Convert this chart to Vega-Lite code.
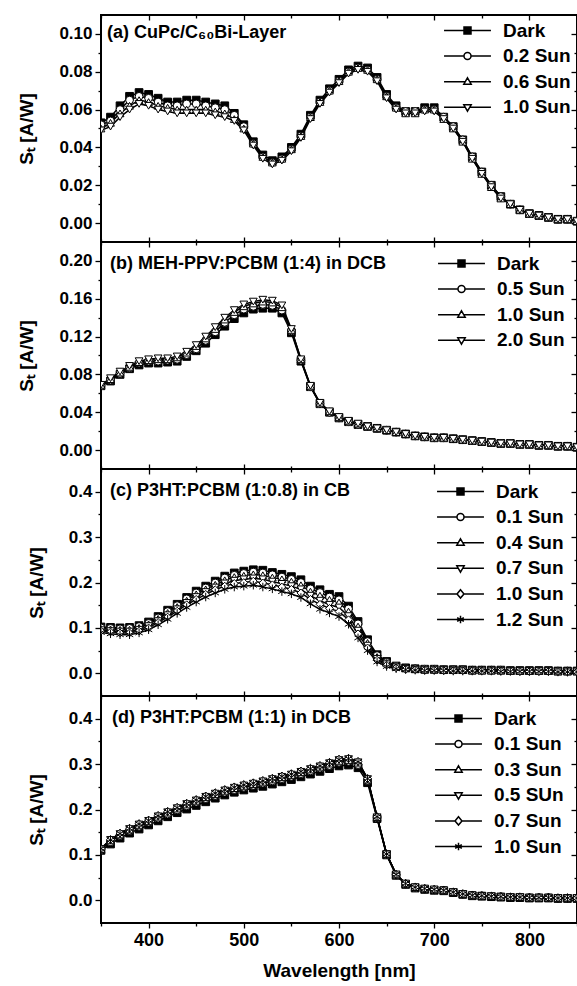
{
"$schema": "https://vega.github.io/schema/vega-lite/v6.json",
"background": "white",
"padding": {"left": 16, "top": 13, "right": 0, "bottom": 2},
"spacing": 0,
"bounds": "flush",
"config": {
  "font": "Liberation Sans",
  "view": {"stroke": "black", "strokeWidth": 2},
  "axis": {"labelFont": "Liberation Sans", "labelFontWeight": "bold", "labelColor": "black", "titleFont": "Liberation Sans", "titleFontWeight": "bold", "titleColor": "black", "tickColor": "black", "tickWidth": 1.3, "domain": false, "grid": false},
  "legend": {"orient": "top-right", "padding": 0, "title": null, "symbolSize": 49, "symbolStrokeWidth": 1.5, "symbolOpacity": 1, "symbolOffset": 20, "labelOffset": 26, "rowPadding": 5.6, "labelFontSize": 19, "labelFontWeight": "bold", "labelColor": "black", "labelFont": "Liberation Sans"}
},
"resolve": {"scale": {"shape": "independent", "fill": "independent"}, "legend": {"shape": "independent", "fill": "independent"}},
"datasets": {
"a": [
{"s":"Dark","w":350,"v":0.053},{"s":"Dark","w":360,"v":0.056},{"s":"Dark","w":370,"v":0.062},{"s":"Dark","w":380,"v":0.067},{"s":"Dark","w":390,"v":0.069},{"s":"Dark","w":400,"v":0.068},{"s":"Dark","w":410,"v":0.066},{"s":"Dark","w":420,"v":0.064},{"s":"Dark","w":430,"v":0.064},{"s":"Dark","w":440,"v":0.065},{"s":"Dark","w":450,"v":0.065},{"s":"Dark","w":460,"v":0.064},{"s":"Dark","w":470,"v":0.063},{"s":"Dark","w":480,"v":0.062},{"s":"Dark","w":490,"v":0.058},{"s":"Dark","w":500,"v":0.052},{"s":"Dark","w":510,"v":0.043},{"s":"Dark","w":520,"v":0.036},{"s":"Dark","w":530,"v":0.033},{"s":"Dark","w":540,"v":0.035},{"s":"Dark","w":550,"v":0.040},{"s":"Dark","w":560,"v":0.047},{"s":"Dark","w":570,"v":0.057},{"s":"Dark","w":580,"v":0.065},{"s":"Dark","w":590,"v":0.071},{"s":"Dark","w":600,"v":0.076},{"s":"Dark","w":610,"v":0.081},{"s":"Dark","w":620,"v":0.083},{"s":"Dark","w":630,"v":0.082},{"s":"Dark","w":640,"v":0.077},{"s":"Dark","w":650,"v":0.068},{"s":"Dark","w":660,"v":0.062},{"s":"Dark","w":670,"v":0.059},{"s":"Dark","w":680,"v":0.059},{"s":"Dark","w":690,"v":0.061},{"s":"Dark","w":700,"v":0.061},{"s":"Dark","w":710,"v":0.056},{"s":"Dark","w":720,"v":0.051},{"s":"Dark","w":730,"v":0.044},{"s":"Dark","w":740,"v":0.035},{"s":"Dark","w":750,"v":0.027},{"s":"Dark","w":760,"v":0.020},{"s":"Dark","w":770,"v":0.014},{"s":"Dark","w":780,"v":0.010},{"s":"Dark","w":790,"v":0.007},{"s":"Dark","w":800,"v":0.005},{"s":"Dark","w":810,"v":0.004},{"s":"Dark","w":820,"v":0.003},{"s":"Dark","w":830,"v":0.002},{"s":"Dark","w":840,"v":0.002},{"s":"Dark","w":850,"v":0.001},
{"s":"0.2 Sun","w":350,"v":0.052},{"s":"0.2 Sun","w":360,"v":0.054},{"s":"0.2 Sun","w":370,"v":0.060},{"s":"0.2 Sun","w":380,"v":0.065},{"s":"0.2 Sun","w":390,"v":0.067},{"s":"0.2 Sun","w":400,"v":0.066},{"s":"0.2 Sun","w":410,"v":0.064},{"s":"0.2 Sun","w":420,"v":0.062},{"s":"0.2 Sun","w":430,"v":0.062},{"s":"0.2 Sun","w":440,"v":0.063},{"s":"0.2 Sun","w":450,"v":0.063},{"s":"0.2 Sun","w":460,"v":0.062},{"s":"0.2 Sun","w":470,"v":0.061},{"s":"0.2 Sun","w":480,"v":0.060},{"s":"0.2 Sun","w":490,"v":0.057},{"s":"0.2 Sun","w":500,"v":0.051},{"s":"0.2 Sun","w":510,"v":0.042},{"s":"0.2 Sun","w":520,"v":0.035},{"s":"0.2 Sun","w":530,"v":0.032},{"s":"0.2 Sun","w":540,"v":0.034},{"s":"0.2 Sun","w":550,"v":0.039},{"s":"0.2 Sun","w":560,"v":0.046},{"s":"0.2 Sun","w":570,"v":0.056},{"s":"0.2 Sun","w":580,"v":0.064},{"s":"0.2 Sun","w":590,"v":0.070},{"s":"0.2 Sun","w":600,"v":0.075},{"s":"0.2 Sun","w":610,"v":0.080},{"s":"0.2 Sun","w":620,"v":0.082},{"s":"0.2 Sun","w":630,"v":0.081},{"s":"0.2 Sun","w":640,"v":0.076},{"s":"0.2 Sun","w":650,"v":0.067},{"s":"0.2 Sun","w":660,"v":0.061},{"s":"0.2 Sun","w":670,"v":0.059},{"s":"0.2 Sun","w":680,"v":0.059},{"s":"0.2 Sun","w":690,"v":0.060},{"s":"0.2 Sun","w":700,"v":0.060},{"s":"0.2 Sun","w":710,"v":0.056},{"s":"0.2 Sun","w":720,"v":0.051},{"s":"0.2 Sun","w":730,"v":0.044},{"s":"0.2 Sun","w":740,"v":0.035},{"s":"0.2 Sun","w":750,"v":0.027},{"s":"0.2 Sun","w":760,"v":0.020},{"s":"0.2 Sun","w":770,"v":0.014},{"s":"0.2 Sun","w":780,"v":0.010},{"s":"0.2 Sun","w":790,"v":0.007},{"s":"0.2 Sun","w":800,"v":0.005},{"s":"0.2 Sun","w":810,"v":0.004},{"s":"0.2 Sun","w":820,"v":0.003},{"s":"0.2 Sun","w":830,"v":0.002},{"s":"0.2 Sun","w":840,"v":0.002},{"s":"0.2 Sun","w":850,"v":0.001},
{"s":"0.6 Sun","w":350,"v":0.050},{"s":"0.6 Sun","w":360,"v":0.053},{"s":"0.6 Sun","w":370,"v":0.058},{"s":"0.6 Sun","w":380,"v":0.062},{"s":"0.6 Sun","w":390,"v":0.065},{"s":"0.6 Sun","w":400,"v":0.064},{"s":"0.6 Sun","w":410,"v":0.062},{"s":"0.6 Sun","w":420,"v":0.061},{"s":"0.6 Sun","w":430,"v":0.060},{"s":"0.6 Sun","w":440,"v":0.060},{"s":"0.6 Sun","w":450,"v":0.060},{"s":"0.6 Sun","w":460,"v":0.060},{"s":"0.6 Sun","w":470,"v":0.059},{"s":"0.6 Sun","w":480,"v":0.058},{"s":"0.6 Sun","w":490,"v":0.055},{"s":"0.6 Sun","w":500,"v":0.050},{"s":"0.6 Sun","w":510,"v":0.042},{"s":"0.6 Sun","w":520,"v":0.035},{"s":"0.6 Sun","w":530,"v":0.032},{"s":"0.6 Sun","w":540,"v":0.034},{"s":"0.6 Sun","w":550,"v":0.039},{"s":"0.6 Sun","w":560,"v":0.046},{"s":"0.6 Sun","w":570,"v":0.056},{"s":"0.6 Sun","w":580,"v":0.064},{"s":"0.6 Sun","w":590,"v":0.070},{"s":"0.6 Sun","w":600,"v":0.075},{"s":"0.6 Sun","w":610,"v":0.080},{"s":"0.6 Sun","w":620,"v":0.082},{"s":"0.6 Sun","w":630,"v":0.081},{"s":"0.6 Sun","w":640,"v":0.076},{"s":"0.6 Sun","w":650,"v":0.067},{"s":"0.6 Sun","w":660,"v":0.061},{"s":"0.6 Sun","w":670,"v":0.058},{"s":"0.6 Sun","w":680,"v":0.058},{"s":"0.6 Sun","w":690,"v":0.060},{"s":"0.6 Sun","w":700,"v":0.060},{"s":"0.6 Sun","w":710,"v":0.055},{"s":"0.6 Sun","w":720,"v":0.050},{"s":"0.6 Sun","w":730,"v":0.043},{"s":"0.6 Sun","w":740,"v":0.034},{"s":"0.6 Sun","w":750,"v":0.026},{"s":"0.6 Sun","w":760,"v":0.019},{"s":"0.6 Sun","w":770,"v":0.013},{"s":"0.6 Sun","w":780,"v":0.010},{"s":"0.6 Sun","w":790,"v":0.007},{"s":"0.6 Sun","w":800,"v":0.005},{"s":"0.6 Sun","w":810,"v":0.004},{"s":"0.6 Sun","w":820,"v":0.003},{"s":"0.6 Sun","w":830,"v":0.002},{"s":"0.6 Sun","w":840,"v":0.002},{"s":"0.6 Sun","w":850,"v":0.001},
{"s":"1.0 Sun","w":350,"v":0.049},{"s":"1.0 Sun","w":360,"v":0.051},{"s":"1.0 Sun","w":370,"v":0.056},{"s":"1.0 Sun","w":380,"v":0.060},{"s":"1.0 Sun","w":390,"v":0.063},{"s":"1.0 Sun","w":400,"v":0.062},{"s":"1.0 Sun","w":410,"v":0.060},{"s":"1.0 Sun","w":420,"v":0.059},{"s":"1.0 Sun","w":430,"v":0.058},{"s":"1.0 Sun","w":440,"v":0.058},{"s":"1.0 Sun","w":450,"v":0.058},{"s":"1.0 Sun","w":460,"v":0.058},{"s":"1.0 Sun","w":470,"v":0.057},{"s":"1.0 Sun","w":480,"v":0.056},{"s":"1.0 Sun","w":490,"v":0.054},{"s":"1.0 Sun","w":500,"v":0.049},{"s":"1.0 Sun","w":510,"v":0.041},{"s":"1.0 Sun","w":520,"v":0.034},{"s":"1.0 Sun","w":530,"v":0.031},{"s":"1.0 Sun","w":540,"v":0.033},{"s":"1.0 Sun","w":550,"v":0.038},{"s":"1.0 Sun","w":560,"v":0.045},{"s":"1.0 Sun","w":570,"v":0.055},{"s":"1.0 Sun","w":580,"v":0.063},{"s":"1.0 Sun","w":590,"v":0.069},{"s":"1.0 Sun","w":600,"v":0.074},{"s":"1.0 Sun","w":610,"v":0.079},{"s":"1.0 Sun","w":620,"v":0.081},{"s":"1.0 Sun","w":630,"v":0.080},{"s":"1.0 Sun","w":640,"v":0.075},{"s":"1.0 Sun","w":650,"v":0.066},{"s":"1.0 Sun","w":660,"v":0.060},{"s":"1.0 Sun","w":670,"v":0.058},{"s":"1.0 Sun","w":680,"v":0.058},{"s":"1.0 Sun","w":690,"v":0.059},{"s":"1.0 Sun","w":700,"v":0.059},{"s":"1.0 Sun","w":710,"v":0.055},{"s":"1.0 Sun","w":720,"v":0.050},{"s":"1.0 Sun","w":730,"v":0.043},{"s":"1.0 Sun","w":740,"v":0.034},{"s":"1.0 Sun","w":750,"v":0.026},{"s":"1.0 Sun","w":760,"v":0.019},{"s":"1.0 Sun","w":770,"v":0.013},{"s":"1.0 Sun","w":780,"v":0.010},{"s":"1.0 Sun","w":790,"v":0.007},{"s":"1.0 Sun","w":800,"v":0.005},{"s":"1.0 Sun","w":810,"v":0.004},{"s":"1.0 Sun","w":820,"v":0.003},{"s":"1.0 Sun","w":830,"v":0.002},{"s":"1.0 Sun","w":840,"v":0.002},{"s":"1.0 Sun","w":850,"v":0.001}
],
"b": [
{"s":"Dark","w":350,"v":0.068},{"s":"Dark","w":360,"v":0.073},{"s":"Dark","w":370,"v":0.080},{"s":"Dark","w":380,"v":0.086},{"s":"Dark","w":390,"v":0.090},{"s":"Dark","w":400,"v":0.092},{"s":"Dark","w":410,"v":0.092},{"s":"Dark","w":420,"v":0.093},{"s":"Dark","w":430,"v":0.094},{"s":"Dark","w":440,"v":0.099},{"s":"Dark","w":450,"v":0.105},{"s":"Dark","w":460,"v":0.113},{"s":"Dark","w":470,"v":0.122},{"s":"Dark","w":480,"v":0.131},{"s":"Dark","w":490,"v":0.139},{"s":"Dark","w":500,"v":0.145},{"s":"Dark","w":510,"v":0.149},{"s":"Dark","w":520,"v":0.150},{"s":"Dark","w":530,"v":0.150},{"s":"Dark","w":540,"v":0.145},{"s":"Dark","w":550,"v":0.124},{"s":"Dark","w":560,"v":0.094},{"s":"Dark","w":570,"v":0.067},{"s":"Dark","w":580,"v":0.049},{"s":"Dark","w":590,"v":0.040},{"s":"Dark","w":600,"v":0.034},{"s":"Dark","w":610,"v":0.030},{"s":"Dark","w":620,"v":0.027},{"s":"Dark","w":630,"v":0.025},{"s":"Dark","w":640,"v":0.023},{"s":"Dark","w":650,"v":0.021},{"s":"Dark","w":660,"v":0.019},{"s":"Dark","w":670,"v":0.017},{"s":"Dark","w":680,"v":0.015},{"s":"Dark","w":690,"v":0.014},{"s":"Dark","w":700,"v":0.013},{"s":"Dark","w":710,"v":0.013},{"s":"Dark","w":720,"v":0.012},{"s":"Dark","w":730,"v":0.011},{"s":"Dark","w":740,"v":0.010},{"s":"Dark","w":750,"v":0.009},{"s":"Dark","w":760,"v":0.008},{"s":"Dark","w":770,"v":0.007},{"s":"Dark","w":780,"v":0.007},{"s":"Dark","w":790,"v":0.006},{"s":"Dark","w":800,"v":0.006},{"s":"Dark","w":810,"v":0.005},{"s":"Dark","w":820,"v":0.005},{"s":"Dark","w":830,"v":0.004},{"s":"Dark","w":840,"v":0.004},{"s":"Dark","w":850,"v":0.003},
{"s":"0.5 Sun","w":350,"v":0.068},{"s":"0.5 Sun","w":360,"v":0.074},{"s":"0.5 Sun","w":370,"v":0.081},{"s":"0.5 Sun","w":380,"v":0.087},{"s":"0.5 Sun","w":390,"v":0.092},{"s":"0.5 Sun","w":400,"v":0.094},{"s":"0.5 Sun","w":410,"v":0.094},{"s":"0.5 Sun","w":420,"v":0.095},{"s":"0.5 Sun","w":430,"v":0.096},{"s":"0.5 Sun","w":440,"v":0.101},{"s":"0.5 Sun","w":450,"v":0.107},{"s":"0.5 Sun","w":460,"v":0.116},{"s":"0.5 Sun","w":470,"v":0.125},{"s":"0.5 Sun","w":480,"v":0.135},{"s":"0.5 Sun","w":490,"v":0.143},{"s":"0.5 Sun","w":500,"v":0.149},{"s":"0.5 Sun","w":510,"v":0.152},{"s":"0.5 Sun","w":520,"v":0.154},{"s":"0.5 Sun","w":530,"v":0.153},{"s":"0.5 Sun","w":540,"v":0.148},{"s":"0.5 Sun","w":550,"v":0.126},{"s":"0.5 Sun","w":560,"v":0.095},{"s":"0.5 Sun","w":570,"v":0.067},{"s":"0.5 Sun","w":580,"v":0.049},{"s":"0.5 Sun","w":590,"v":0.040},{"s":"0.5 Sun","w":600,"v":0.034},{"s":"0.5 Sun","w":610,"v":0.030},{"s":"0.5 Sun","w":620,"v":0.027},{"s":"0.5 Sun","w":630,"v":0.025},{"s":"0.5 Sun","w":640,"v":0.023},{"s":"0.5 Sun","w":650,"v":0.021},{"s":"0.5 Sun","w":660,"v":0.019},{"s":"0.5 Sun","w":670,"v":0.017},{"s":"0.5 Sun","w":680,"v":0.015},{"s":"0.5 Sun","w":690,"v":0.014},{"s":"0.5 Sun","w":700,"v":0.013},{"s":"0.5 Sun","w":710,"v":0.013},{"s":"0.5 Sun","w":720,"v":0.012},{"s":"0.5 Sun","w":730,"v":0.011},{"s":"0.5 Sun","w":740,"v":0.010},{"s":"0.5 Sun","w":750,"v":0.009},{"s":"0.5 Sun","w":760,"v":0.008},{"s":"0.5 Sun","w":770,"v":0.007},{"s":"0.5 Sun","w":780,"v":0.007},{"s":"0.5 Sun","w":790,"v":0.006},{"s":"0.5 Sun","w":800,"v":0.006},{"s":"0.5 Sun","w":810,"v":0.005},{"s":"0.5 Sun","w":820,"v":0.005},{"s":"0.5 Sun","w":830,"v":0.004},{"s":"0.5 Sun","w":840,"v":0.004},{"s":"0.5 Sun","w":850,"v":0.003},
{"s":"1.0 Sun","w":350,"v":0.069},{"s":"1.0 Sun","w":360,"v":0.075},{"s":"1.0 Sun","w":370,"v":0.082},{"s":"1.0 Sun","w":380,"v":0.088},{"s":"1.0 Sun","w":390,"v":0.093},{"s":"1.0 Sun","w":400,"v":0.095},{"s":"1.0 Sun","w":410,"v":0.096},{"s":"1.0 Sun","w":420,"v":0.096},{"s":"1.0 Sun","w":430,"v":0.098},{"s":"1.0 Sun","w":440,"v":0.103},{"s":"1.0 Sun","w":450,"v":0.110},{"s":"1.0 Sun","w":460,"v":0.118},{"s":"1.0 Sun","w":470,"v":0.128},{"s":"1.0 Sun","w":480,"v":0.138},{"s":"1.0 Sun","w":490,"v":0.146},{"s":"1.0 Sun","w":500,"v":0.152},{"s":"1.0 Sun","w":510,"v":0.155},{"s":"1.0 Sun","w":520,"v":0.157},{"s":"1.0 Sun","w":530,"v":0.156},{"s":"1.0 Sun","w":540,"v":0.151},{"s":"1.0 Sun","w":550,"v":0.127},{"s":"1.0 Sun","w":560,"v":0.096},{"s":"1.0 Sun","w":570,"v":0.068},{"s":"1.0 Sun","w":580,"v":0.050},{"s":"1.0 Sun","w":590,"v":0.041},{"s":"1.0 Sun","w":600,"v":0.035},{"s":"1.0 Sun","w":610,"v":0.031},{"s":"1.0 Sun","w":620,"v":0.028},{"s":"1.0 Sun","w":630,"v":0.025},{"s":"1.0 Sun","w":640,"v":0.023},{"s":"1.0 Sun","w":650,"v":0.021},{"s":"1.0 Sun","w":660,"v":0.019},{"s":"1.0 Sun","w":670,"v":0.017},{"s":"1.0 Sun","w":680,"v":0.015},{"s":"1.0 Sun","w":690,"v":0.014},{"s":"1.0 Sun","w":700,"v":0.013},{"s":"1.0 Sun","w":710,"v":0.013},{"s":"1.0 Sun","w":720,"v":0.012},{"s":"1.0 Sun","w":730,"v":0.011},{"s":"1.0 Sun","w":740,"v":0.010},{"s":"1.0 Sun","w":750,"v":0.009},{"s":"1.0 Sun","w":760,"v":0.008},{"s":"1.0 Sun","w":770,"v":0.007},{"s":"1.0 Sun","w":780,"v":0.007},{"s":"1.0 Sun","w":790,"v":0.006},{"s":"1.0 Sun","w":800,"v":0.006},{"s":"1.0 Sun","w":810,"v":0.005},{"s":"1.0 Sun","w":820,"v":0.005},{"s":"1.0 Sun","w":830,"v":0.004},{"s":"1.0 Sun","w":840,"v":0.004},{"s":"1.0 Sun","w":850,"v":0.003},
{"s":"2.0 Sun","w":350,"v":0.069},{"s":"2.0 Sun","w":360,"v":0.076},{"s":"2.0 Sun","w":370,"v":0.083},{"s":"2.0 Sun","w":380,"v":0.089},{"s":"2.0 Sun","w":390,"v":0.094},{"s":"2.0 Sun","w":400,"v":0.096},{"s":"2.0 Sun","w":410,"v":0.097},{"s":"2.0 Sun","w":420,"v":0.097},{"s":"2.0 Sun","w":430,"v":0.099},{"s":"2.0 Sun","w":440,"v":0.104},{"s":"2.0 Sun","w":450,"v":0.111},{"s":"2.0 Sun","w":460,"v":0.120},{"s":"2.0 Sun","w":470,"v":0.130},{"s":"2.0 Sun","w":480,"v":0.140},{"s":"2.0 Sun","w":490,"v":0.148},{"s":"2.0 Sun","w":500,"v":0.154},{"s":"2.0 Sun","w":510,"v":0.157},{"s":"2.0 Sun","w":520,"v":0.159},{"s":"2.0 Sun","w":530,"v":0.158},{"s":"2.0 Sun","w":540,"v":0.153},{"s":"2.0 Sun","w":550,"v":0.128},{"s":"2.0 Sun","w":560,"v":0.096},{"s":"2.0 Sun","w":570,"v":0.068},{"s":"2.0 Sun","w":580,"v":0.050},{"s":"2.0 Sun","w":590,"v":0.041},{"s":"2.0 Sun","w":600,"v":0.035},{"s":"2.0 Sun","w":610,"v":0.031},{"s":"2.0 Sun","w":620,"v":0.028},{"s":"2.0 Sun","w":630,"v":0.025},{"s":"2.0 Sun","w":640,"v":0.023},{"s":"2.0 Sun","w":650,"v":0.021},{"s":"2.0 Sun","w":660,"v":0.019},{"s":"2.0 Sun","w":670,"v":0.017},{"s":"2.0 Sun","w":680,"v":0.015},{"s":"2.0 Sun","w":690,"v":0.014},{"s":"2.0 Sun","w":700,"v":0.013},{"s":"2.0 Sun","w":710,"v":0.013},{"s":"2.0 Sun","w":720,"v":0.012},{"s":"2.0 Sun","w":730,"v":0.011},{"s":"2.0 Sun","w":740,"v":0.010},{"s":"2.0 Sun","w":750,"v":0.009},{"s":"2.0 Sun","w":760,"v":0.008},{"s":"2.0 Sun","w":770,"v":0.007},{"s":"2.0 Sun","w":780,"v":0.007},{"s":"2.0 Sun","w":790,"v":0.006},{"s":"2.0 Sun","w":800,"v":0.006},{"s":"2.0 Sun","w":810,"v":0.005},{"s":"2.0 Sun","w":820,"v":0.005},{"s":"2.0 Sun","w":830,"v":0.004},{"s":"2.0 Sun","w":840,"v":0.004},{"s":"2.0 Sun","w":850,"v":0.003}
],
"c": [
{"s":"Dark","w":350,"v":0.102},{"s":"Dark","w":360,"v":0.101},{"s":"Dark","w":370,"v":0.100},{"s":"Dark","w":380,"v":0.101},{"s":"Dark","w":390,"v":0.105},{"s":"Dark","w":400,"v":0.113},{"s":"Dark","w":410,"v":0.125},{"s":"Dark","w":420,"v":0.139},{"s":"Dark","w":430,"v":0.152},{"s":"Dark","w":440,"v":0.167},{"s":"Dark","w":450,"v":0.181},{"s":"Dark","w":460,"v":0.192},{"s":"Dark","w":470,"v":0.203},{"s":"Dark","w":480,"v":0.214},{"s":"Dark","w":490,"v":0.221},{"s":"Dark","w":500,"v":0.225},{"s":"Dark","w":510,"v":0.228},{"s":"Dark","w":520,"v":0.227},{"s":"Dark","w":530,"v":0.222},{"s":"Dark","w":540,"v":0.218},{"s":"Dark","w":550,"v":0.213},{"s":"Dark","w":560,"v":0.206},{"s":"Dark","w":570,"v":0.192},{"s":"Dark","w":580,"v":0.184},{"s":"Dark","w":590,"v":0.174},{"s":"Dark","w":600,"v":0.169},{"s":"Dark","w":610,"v":0.148},{"s":"Dark","w":620,"v":0.114},{"s":"Dark","w":630,"v":0.074},{"s":"Dark","w":640,"v":0.041},{"s":"Dark","w":650,"v":0.026},{"s":"Dark","w":660,"v":0.016},{"s":"Dark","w":670,"v":0.012},{"s":"Dark","w":680,"v":0.010},{"s":"Dark","w":690,"v":0.009},{"s":"Dark","w":700,"v":0.009},{"s":"Dark","w":710,"v":0.008},{"s":"Dark","w":720,"v":0.008},{"s":"Dark","w":730,"v":0.008},{"s":"Dark","w":740,"v":0.007},{"s":"Dark","w":750,"v":0.007},{"s":"Dark","w":760,"v":0.007},{"s":"Dark","w":770,"v":0.007},{"s":"Dark","w":780,"v":0.006},{"s":"Dark","w":790,"v":0.006},{"s":"Dark","w":800,"v":0.006},{"s":"Dark","w":810,"v":0.006},{"s":"Dark","w":820,"v":0.006},{"s":"Dark","w":830,"v":0.005},{"s":"Dark","w":840,"v":0.005},{"s":"Dark","w":850,"v":0.005},
{"s":"0.1 Sun","w":350,"v":0.100},{"s":"0.1 Sun","w":360,"v":0.099},{"s":"0.1 Sun","w":370,"v":0.098},{"s":"0.1 Sun","w":380,"v":0.099},{"s":"0.1 Sun","w":390,"v":0.103},{"s":"0.1 Sun","w":400,"v":0.110},{"s":"0.1 Sun","w":410,"v":0.122},{"s":"0.1 Sun","w":420,"v":0.136},{"s":"0.1 Sun","w":430,"v":0.149},{"s":"0.1 Sun","w":440,"v":0.164},{"s":"0.1 Sun","w":450,"v":0.177},{"s":"0.1 Sun","w":460,"v":0.188},{"s":"0.1 Sun","w":470,"v":0.199},{"s":"0.1 Sun","w":480,"v":0.210},{"s":"0.1 Sun","w":490,"v":0.216},{"s":"0.1 Sun","w":500,"v":0.220},{"s":"0.1 Sun","w":510,"v":0.223},{"s":"0.1 Sun","w":520,"v":0.221},{"s":"0.1 Sun","w":530,"v":0.217},{"s":"0.1 Sun","w":540,"v":0.212},{"s":"0.1 Sun","w":550,"v":0.207},{"s":"0.1 Sun","w":560,"v":0.200},{"s":"0.1 Sun","w":570,"v":0.186},{"s":"0.1 Sun","w":580,"v":0.178},{"s":"0.1 Sun","w":590,"v":0.168},{"s":"0.1 Sun","w":600,"v":0.162},{"s":"0.1 Sun","w":610,"v":0.142},{"s":"0.1 Sun","w":620,"v":0.109},{"s":"0.1 Sun","w":630,"v":0.070},{"s":"0.1 Sun","w":640,"v":0.039},{"s":"0.1 Sun","w":650,"v":0.024},{"s":"0.1 Sun","w":660,"v":0.015},{"s":"0.1 Sun","w":670,"v":0.011},{"s":"0.1 Sun","w":680,"v":0.010},{"s":"0.1 Sun","w":690,"v":0.009},{"s":"0.1 Sun","w":700,"v":0.009},{"s":"0.1 Sun","w":710,"v":0.008},{"s":"0.1 Sun","w":720,"v":0.008},{"s":"0.1 Sun","w":730,"v":0.008},{"s":"0.1 Sun","w":740,"v":0.007},{"s":"0.1 Sun","w":750,"v":0.007},{"s":"0.1 Sun","w":760,"v":0.007},{"s":"0.1 Sun","w":770,"v":0.007},{"s":"0.1 Sun","w":780,"v":0.006},{"s":"0.1 Sun","w":790,"v":0.006},{"s":"0.1 Sun","w":800,"v":0.006},{"s":"0.1 Sun","w":810,"v":0.006},{"s":"0.1 Sun","w":820,"v":0.006},{"s":"0.1 Sun","w":830,"v":0.005},{"s":"0.1 Sun","w":840,"v":0.005},{"s":"0.1 Sun","w":850,"v":0.005},
{"s":"0.4 Sun","w":350,"v":0.098},{"s":"0.4 Sun","w":360,"v":0.097},{"s":"0.4 Sun","w":370,"v":0.096},{"s":"0.4 Sun","w":380,"v":0.096},{"s":"0.4 Sun","w":390,"v":0.100},{"s":"0.4 Sun","w":400,"v":0.108},{"s":"0.4 Sun","w":410,"v":0.120},{"s":"0.4 Sun","w":420,"v":0.133},{"s":"0.4 Sun","w":430,"v":0.146},{"s":"0.4 Sun","w":440,"v":0.160},{"s":"0.4 Sun","w":450,"v":0.174},{"s":"0.4 Sun","w":460,"v":0.185},{"s":"0.4 Sun","w":470,"v":0.195},{"s":"0.4 Sun","w":480,"v":0.205},{"s":"0.4 Sun","w":490,"v":0.212},{"s":"0.4 Sun","w":500,"v":0.215},{"s":"0.4 Sun","w":510,"v":0.218},{"s":"0.4 Sun","w":520,"v":0.216},{"s":"0.4 Sun","w":530,"v":0.211},{"s":"0.4 Sun","w":540,"v":0.207},{"s":"0.4 Sun","w":550,"v":0.202},{"s":"0.4 Sun","w":560,"v":0.194},{"s":"0.4 Sun","w":570,"v":0.180},{"s":"0.4 Sun","w":580,"v":0.171},{"s":"0.4 Sun","w":590,"v":0.162},{"s":"0.4 Sun","w":600,"v":0.156},{"s":"0.4 Sun","w":610,"v":0.136},{"s":"0.4 Sun","w":620,"v":0.103},{"s":"0.4 Sun","w":630,"v":0.067},{"s":"0.4 Sun","w":640,"v":0.036},{"s":"0.4 Sun","w":650,"v":0.023},{"s":"0.4 Sun","w":660,"v":0.014},{"s":"0.4 Sun","w":670,"v":0.011},{"s":"0.4 Sun","w":680,"v":0.009},{"s":"0.4 Sun","w":690,"v":0.008},{"s":"0.4 Sun","w":700,"v":0.008},{"s":"0.4 Sun","w":710,"v":0.007},{"s":"0.4 Sun","w":720,"v":0.007},{"s":"0.4 Sun","w":730,"v":0.007},{"s":"0.4 Sun","w":740,"v":0.006},{"s":"0.4 Sun","w":750,"v":0.006},{"s":"0.4 Sun","w":760,"v":0.006},{"s":"0.4 Sun","w":770,"v":0.006},{"s":"0.4 Sun","w":780,"v":0.005},{"s":"0.4 Sun","w":790,"v":0.005},{"s":"0.4 Sun","w":800,"v":0.005},{"s":"0.4 Sun","w":810,"v":0.005},{"s":"0.4 Sun","w":820,"v":0.005},{"s":"0.4 Sun","w":830,"v":0.004},{"s":"0.4 Sun","w":840,"v":0.004},{"s":"0.4 Sun","w":850,"v":0.004},
{"s":"0.7 Sun","w":350,"v":0.095},{"s":"0.7 Sun","w":360,"v":0.093},{"s":"0.7 Sun","w":370,"v":0.092},{"s":"0.7 Sun","w":380,"v":0.092},{"s":"0.7 Sun","w":390,"v":0.096},{"s":"0.7 Sun","w":400,"v":0.104},{"s":"0.7 Sun","w":410,"v":0.115},{"s":"0.7 Sun","w":420,"v":0.128},{"s":"0.7 Sun","w":430,"v":0.141},{"s":"0.7 Sun","w":440,"v":0.155},{"s":"0.7 Sun","w":450,"v":0.168},{"s":"0.7 Sun","w":460,"v":0.179},{"s":"0.7 Sun","w":470,"v":0.189},{"s":"0.7 Sun","w":480,"v":0.198},{"s":"0.7 Sun","w":490,"v":0.204},{"s":"0.7 Sun","w":500,"v":0.207},{"s":"0.7 Sun","w":510,"v":0.209},{"s":"0.7 Sun","w":520,"v":0.207},{"s":"0.7 Sun","w":530,"v":0.202},{"s":"0.7 Sun","w":540,"v":0.197},{"s":"0.7 Sun","w":550,"v":0.192},{"s":"0.7 Sun","w":560,"v":0.185},{"s":"0.7 Sun","w":570,"v":0.171},{"s":"0.7 Sun","w":580,"v":0.160},{"s":"0.7 Sun","w":590,"v":0.151},{"s":"0.7 Sun","w":600,"v":0.145},{"s":"0.7 Sun","w":610,"v":0.126},{"s":"0.7 Sun","w":620,"v":0.094},{"s":"0.7 Sun","w":630,"v":0.061},{"s":"0.7 Sun","w":640,"v":0.032},{"s":"0.7 Sun","w":650,"v":0.020},{"s":"0.7 Sun","w":660,"v":0.013},{"s":"0.7 Sun","w":670,"v":0.010},{"s":"0.7 Sun","w":680,"v":0.008},{"s":"0.7 Sun","w":690,"v":0.007},{"s":"0.7 Sun","w":700,"v":0.007},{"s":"0.7 Sun","w":710,"v":0.007},{"s":"0.7 Sun","w":720,"v":0.006},{"s":"0.7 Sun","w":730,"v":0.006},{"s":"0.7 Sun","w":740,"v":0.006},{"s":"0.7 Sun","w":750,"v":0.006},{"s":"0.7 Sun","w":760,"v":0.006},{"s":"0.7 Sun","w":770,"v":0.005},{"s":"0.7 Sun","w":780,"v":0.005},{"s":"0.7 Sun","w":790,"v":0.005},{"s":"0.7 Sun","w":800,"v":0.005},{"s":"0.7 Sun","w":810,"v":0.005},{"s":"0.7 Sun","w":820,"v":0.005},{"s":"0.7 Sun","w":830,"v":0.004},{"s":"0.7 Sun","w":840,"v":0.004},{"s":"0.7 Sun","w":850,"v":0.004},
{"s":"1.0 Sun","w":350,"v":0.093},{"s":"1.0 Sun","w":360,"v":0.091},{"s":"1.0 Sun","w":370,"v":0.089},{"s":"1.0 Sun","w":380,"v":0.089},{"s":"1.0 Sun","w":390,"v":0.093},{"s":"1.0 Sun","w":400,"v":0.100},{"s":"1.0 Sun","w":410,"v":0.112},{"s":"1.0 Sun","w":420,"v":0.124},{"s":"1.0 Sun","w":430,"v":0.137},{"s":"1.0 Sun","w":440,"v":0.151},{"s":"1.0 Sun","w":450,"v":0.163},{"s":"1.0 Sun","w":460,"v":0.174},{"s":"1.0 Sun","w":470,"v":0.184},{"s":"1.0 Sun","w":480,"v":0.192},{"s":"1.0 Sun","w":490,"v":0.198},{"s":"1.0 Sun","w":500,"v":0.200},{"s":"1.0 Sun","w":510,"v":0.203},{"s":"1.0 Sun","w":520,"v":0.199},{"s":"1.0 Sun","w":530,"v":0.195},{"s":"1.0 Sun","w":540,"v":0.190},{"s":"1.0 Sun","w":550,"v":0.185},{"s":"1.0 Sun","w":560,"v":0.177},{"s":"1.0 Sun","w":570,"v":0.163},{"s":"1.0 Sun","w":580,"v":0.152},{"s":"1.0 Sun","w":590,"v":0.143},{"s":"1.0 Sun","w":600,"v":0.136},{"s":"1.0 Sun","w":610,"v":0.118},{"s":"1.0 Sun","w":620,"v":0.087},{"s":"1.0 Sun","w":630,"v":0.056},{"s":"1.0 Sun","w":640,"v":0.029},{"s":"1.0 Sun","w":650,"v":0.018},{"s":"1.0 Sun","w":660,"v":0.012},{"s":"1.0 Sun","w":670,"v":0.009},{"s":"1.0 Sun","w":680,"v":0.008},{"s":"1.0 Sun","w":690,"v":0.007},{"s":"1.0 Sun","w":700,"v":0.007},{"s":"1.0 Sun","w":710,"v":0.006},{"s":"1.0 Sun","w":720,"v":0.006},{"s":"1.0 Sun","w":730,"v":0.006},{"s":"1.0 Sun","w":740,"v":0.006},{"s":"1.0 Sun","w":750,"v":0.005},{"s":"1.0 Sun","w":760,"v":0.005},{"s":"1.0 Sun","w":770,"v":0.005},{"s":"1.0 Sun","w":780,"v":0.005},{"s":"1.0 Sun","w":790,"v":0.004},{"s":"1.0 Sun","w":800,"v":0.004},{"s":"1.0 Sun","w":810,"v":0.004},{"s":"1.0 Sun","w":820,"v":0.004},{"s":"1.0 Sun","w":830,"v":0.004},{"s":"1.0 Sun","w":840,"v":0.003},{"s":"1.0 Sun","w":850,"v":0.003},
{"s":"1.2 Sun","w":350,"v":0.090},{"s":"1.2 Sun","w":360,"v":0.087},{"s":"1.2 Sun","w":370,"v":0.085},{"s":"1.2 Sun","w":380,"v":0.085},{"s":"1.2 Sun","w":390,"v":0.089},{"s":"1.2 Sun","w":400,"v":0.096},{"s":"1.2 Sun","w":410,"v":0.107},{"s":"1.2 Sun","w":420,"v":0.119},{"s":"1.2 Sun","w":430,"v":0.132},{"s":"1.2 Sun","w":440,"v":0.145},{"s":"1.2 Sun","w":450,"v":0.157},{"s":"1.2 Sun","w":460,"v":0.168},{"s":"1.2 Sun","w":470,"v":0.177},{"s":"1.2 Sun","w":480,"v":0.185},{"s":"1.2 Sun","w":490,"v":0.190},{"s":"1.2 Sun","w":500,"v":0.192},{"s":"1.2 Sun","w":510,"v":0.194},{"s":"1.2 Sun","w":520,"v":0.190},{"s":"1.2 Sun","w":530,"v":0.186},{"s":"1.2 Sun","w":540,"v":0.180},{"s":"1.2 Sun","w":550,"v":0.175},{"s":"1.2 Sun","w":560,"v":0.167},{"s":"1.2 Sun","w":570,"v":0.153},{"s":"1.2 Sun","w":580,"v":0.141},{"s":"1.2 Sun","w":590,"v":0.133},{"s":"1.2 Sun","w":600,"v":0.125},{"s":"1.2 Sun","w":610,"v":0.108},{"s":"1.2 Sun","w":620,"v":0.078},{"s":"1.2 Sun","w":630,"v":0.050},{"s":"1.2 Sun","w":640,"v":0.025},{"s":"1.2 Sun","w":650,"v":0.015},{"s":"1.2 Sun","w":660,"v":0.010},{"s":"1.2 Sun","w":670,"v":0.008},{"s":"1.2 Sun","w":680,"v":0.007},{"s":"1.2 Sun","w":690,"v":0.006},{"s":"1.2 Sun","w":700,"v":0.006},{"s":"1.2 Sun","w":710,"v":0.006},{"s":"1.2 Sun","w":720,"v":0.005},{"s":"1.2 Sun","w":730,"v":0.005},{"s":"1.2 Sun","w":740,"v":0.005},{"s":"1.2 Sun","w":750,"v":0.005},{"s":"1.2 Sun","w":760,"v":0.005},{"s":"1.2 Sun","w":770,"v":0.004},{"s":"1.2 Sun","w":780,"v":0.004},{"s":"1.2 Sun","w":790,"v":0.004},{"s":"1.2 Sun","w":800,"v":0.004},{"s":"1.2 Sun","w":810,"v":0.004},{"s":"1.2 Sun","w":820,"v":0.004},{"s":"1.2 Sun","w":830,"v":0.003},{"s":"1.2 Sun","w":840,"v":0.003},{"s":"1.2 Sun","w":850,"v":0.003}
],
"d": [
{"s":"Dark","w":350,"v":0.110},{"s":"Dark","w":360,"v":0.124},{"s":"Dark","w":370,"v":0.137},{"s":"Dark","w":380,"v":0.148},{"s":"Dark","w":390,"v":0.157},{"s":"Dark","w":400,"v":0.166},{"s":"Dark","w":410,"v":0.175},{"s":"Dark","w":420,"v":0.184},{"s":"Dark","w":430,"v":0.193},{"s":"Dark","w":440,"v":0.201},{"s":"Dark","w":450,"v":0.209},{"s":"Dark","w":460,"v":0.217},{"s":"Dark","w":470,"v":0.225},{"s":"Dark","w":480,"v":0.232},{"s":"Dark","w":490,"v":0.238},{"s":"Dark","w":500,"v":0.243},{"s":"Dark","w":510,"v":0.247},{"s":"Dark","w":520,"v":0.251},{"s":"Dark","w":530,"v":0.256},{"s":"Dark","w":540,"v":0.261},{"s":"Dark","w":550,"v":0.266},{"s":"Dark","w":560,"v":0.272},{"s":"Dark","w":570,"v":0.278},{"s":"Dark","w":580,"v":0.284},{"s":"Dark","w":590,"v":0.290},{"s":"Dark","w":600,"v":0.296},{"s":"Dark","w":610,"v":0.298},{"s":"Dark","w":620,"v":0.292},{"s":"Dark","w":630,"v":0.259},{"s":"Dark","w":640,"v":0.180},{"s":"Dark","w":650,"v":0.100},{"s":"Dark","w":660,"v":0.055},{"s":"Dark","w":670,"v":0.035},{"s":"Dark","w":680,"v":0.027},{"s":"Dark","w":690,"v":0.024},{"s":"Dark","w":700,"v":0.022},{"s":"Dark","w":710,"v":0.021},{"s":"Dark","w":720,"v":0.017},{"s":"Dark","w":730,"v":0.013},{"s":"Dark","w":740,"v":0.010},{"s":"Dark","w":750,"v":0.009},{"s":"Dark","w":760,"v":0.008},{"s":"Dark","w":770,"v":0.007},{"s":"Dark","w":780,"v":0.006},{"s":"Dark","w":790,"v":0.006},{"s":"Dark","w":800,"v":0.005},{"s":"Dark","w":810,"v":0.005},{"s":"Dark","w":820,"v":0.005},{"s":"Dark","w":830,"v":0.004},{"s":"Dark","w":840,"v":0.004},{"s":"Dark","w":850,"v":0.004},
{"s":"0.1 Sun","w":350,"v":0.112},{"s":"0.1 Sun","w":360,"v":0.129},{"s":"0.1 Sun","w":370,"v":0.143},{"s":"0.1 Sun","w":380,"v":0.154},{"s":"0.1 Sun","w":390,"v":0.163},{"s":"0.1 Sun","w":400,"v":0.172},{"s":"0.1 Sun","w":410,"v":0.181},{"s":"0.1 Sun","w":420,"v":0.190},{"s":"0.1 Sun","w":430,"v":0.199},{"s":"0.1 Sun","w":440,"v":0.208},{"s":"0.1 Sun","w":450,"v":0.216},{"s":"0.1 Sun","w":460,"v":0.224},{"s":"0.1 Sun","w":470,"v":0.231},{"s":"0.1 Sun","w":480,"v":0.238},{"s":"0.1 Sun","w":490,"v":0.244},{"s":"0.1 Sun","w":500,"v":0.249},{"s":"0.1 Sun","w":510,"v":0.253},{"s":"0.1 Sun","w":520,"v":0.258},{"s":"0.1 Sun","w":530,"v":0.263},{"s":"0.1 Sun","w":540,"v":0.268},{"s":"0.1 Sun","w":550,"v":0.273},{"s":"0.1 Sun","w":560,"v":0.279},{"s":"0.1 Sun","w":570,"v":0.285},{"s":"0.1 Sun","w":580,"v":0.291},{"s":"0.1 Sun","w":590,"v":0.297},{"s":"0.1 Sun","w":600,"v":0.304},{"s":"0.1 Sun","w":610,"v":0.306},{"s":"0.1 Sun","w":620,"v":0.299},{"s":"0.1 Sun","w":630,"v":0.264},{"s":"0.1 Sun","w":640,"v":0.182},{"s":"0.1 Sun","w":650,"v":0.101},{"s":"0.1 Sun","w":660,"v":0.056},{"s":"0.1 Sun","w":670,"v":0.036},{"s":"0.1 Sun","w":680,"v":0.028},{"s":"0.1 Sun","w":690,"v":0.025},{"s":"0.1 Sun","w":700,"v":0.023},{"s":"0.1 Sun","w":710,"v":0.022},{"s":"0.1 Sun","w":720,"v":0.018},{"s":"0.1 Sun","w":730,"v":0.014},{"s":"0.1 Sun","w":740,"v":0.011},{"s":"0.1 Sun","w":750,"v":0.010},{"s":"0.1 Sun","w":760,"v":0.009},{"s":"0.1 Sun","w":770,"v":0.008},{"s":"0.1 Sun","w":780,"v":0.007},{"s":"0.1 Sun","w":790,"v":0.007},{"s":"0.1 Sun","w":800,"v":0.006},{"s":"0.1 Sun","w":810,"v":0.006},{"s":"0.1 Sun","w":820,"v":0.006},{"s":"0.1 Sun","w":830,"v":0.005},{"s":"0.1 Sun","w":840,"v":0.005},{"s":"0.1 Sun","w":850,"v":0.005},
{"s":"0.3 Sun","w":350,"v":0.113},{"s":"0.3 Sun","w":360,"v":0.132},{"s":"0.3 Sun","w":370,"v":0.145},{"s":"0.3 Sun","w":380,"v":0.156},{"s":"0.3 Sun","w":390,"v":0.166},{"s":"0.3 Sun","w":400,"v":0.174},{"s":"0.3 Sun","w":410,"v":0.184},{"s":"0.3 Sun","w":420,"v":0.193},{"s":"0.3 Sun","w":430,"v":0.202},{"s":"0.3 Sun","w":440,"v":0.211},{"s":"0.3 Sun","w":450,"v":0.219},{"s":"0.3 Sun","w":460,"v":0.227},{"s":"0.3 Sun","w":470,"v":0.234},{"s":"0.3 Sun","w":480,"v":0.241},{"s":"0.3 Sun","w":490,"v":0.247},{"s":"0.3 Sun","w":500,"v":0.252},{"s":"0.3 Sun","w":510,"v":0.256},{"s":"0.3 Sun","w":520,"v":0.261},{"s":"0.3 Sun","w":530,"v":0.266},{"s":"0.3 Sun","w":540,"v":0.271},{"s":"0.3 Sun","w":550,"v":0.276},{"s":"0.3 Sun","w":560,"v":0.282},{"s":"0.3 Sun","w":570,"v":0.288},{"s":"0.3 Sun","w":580,"v":0.294},{"s":"0.3 Sun","w":590,"v":0.301},{"s":"0.3 Sun","w":600,"v":0.307},{"s":"0.3 Sun","w":610,"v":0.309},{"s":"0.3 Sun","w":620,"v":0.303},{"s":"0.3 Sun","w":630,"v":0.266},{"s":"0.3 Sun","w":640,"v":0.183},{"s":"0.3 Sun","w":650,"v":0.102},{"s":"0.3 Sun","w":660,"v":0.057},{"s":"0.3 Sun","w":670,"v":0.037},{"s":"0.3 Sun","w":680,"v":0.029},{"s":"0.3 Sun","w":690,"v":0.026},{"s":"0.3 Sun","w":700,"v":0.024},{"s":"0.3 Sun","w":710,"v":0.022},{"s":"0.3 Sun","w":720,"v":0.018},{"s":"0.3 Sun","w":730,"v":0.014},{"s":"0.3 Sun","w":740,"v":0.011},{"s":"0.3 Sun","w":750,"v":0.010},{"s":"0.3 Sun","w":760,"v":0.009},{"s":"0.3 Sun","w":770,"v":0.008},{"s":"0.3 Sun","w":780,"v":0.007},{"s":"0.3 Sun","w":790,"v":0.007},{"s":"0.3 Sun","w":800,"v":0.006},{"s":"0.3 Sun","w":810,"v":0.006},{"s":"0.3 Sun","w":820,"v":0.006},{"s":"0.3 Sun","w":830,"v":0.005},{"s":"0.3 Sun","w":840,"v":0.005},{"s":"0.3 Sun","w":850,"v":0.005},
{"s":"0.5 SUn","w":350,"v":0.113},{"s":"0.5 SUn","w":360,"v":0.133},{"s":"0.5 SUn","w":370,"v":0.146},{"s":"0.5 SUn","w":380,"v":0.157},{"s":"0.5 SUn","w":390,"v":0.167},{"s":"0.5 SUn","w":400,"v":0.175},{"s":"0.5 SUn","w":410,"v":0.185},{"s":"0.5 SUn","w":420,"v":0.194},{"s":"0.5 SUn","w":430,"v":0.203},{"s":"0.5 SUn","w":440,"v":0.212},{"s":"0.5 SUn","w":450,"v":0.220},{"s":"0.5 SUn","w":460,"v":0.228},{"s":"0.5 SUn","w":470,"v":0.235},{"s":"0.5 SUn","w":480,"v":0.242},{"s":"0.5 SUn","w":490,"v":0.248},{"s":"0.5 SUn","w":500,"v":0.253},{"s":"0.5 SUn","w":510,"v":0.257},{"s":"0.5 SUn","w":520,"v":0.262},{"s":"0.5 SUn","w":530,"v":0.267},{"s":"0.5 SUn","w":540,"v":0.272},{"s":"0.5 SUn","w":550,"v":0.277},{"s":"0.5 SUn","w":560,"v":0.283},{"s":"0.5 SUn","w":570,"v":0.289},{"s":"0.5 SUn","w":580,"v":0.295},{"s":"0.5 SUn","w":590,"v":0.302},{"s":"0.5 SUn","w":600,"v":0.309},{"s":"0.5 SUn","w":610,"v":0.311},{"s":"0.5 SUn","w":620,"v":0.304},{"s":"0.5 SUn","w":630,"v":0.267},{"s":"0.5 SUn","w":640,"v":0.183},{"s":"0.5 SUn","w":650,"v":0.102},{"s":"0.5 SUn","w":660,"v":0.057},{"s":"0.5 SUn","w":670,"v":0.037},{"s":"0.5 SUn","w":680,"v":0.029},{"s":"0.5 SUn","w":690,"v":0.026},{"s":"0.5 SUn","w":700,"v":0.024},{"s":"0.5 SUn","w":710,"v":0.022},{"s":"0.5 SUn","w":720,"v":0.018},{"s":"0.5 SUn","w":730,"v":0.014},{"s":"0.5 SUn","w":740,"v":0.011},{"s":"0.5 SUn","w":750,"v":0.010},{"s":"0.5 SUn","w":760,"v":0.009},{"s":"0.5 SUn","w":770,"v":0.008},{"s":"0.5 SUn","w":780,"v":0.007},{"s":"0.5 SUn","w":790,"v":0.007},{"s":"0.5 SUn","w":800,"v":0.006},{"s":"0.5 SUn","w":810,"v":0.006},{"s":"0.5 SUn","w":820,"v":0.006},{"s":"0.5 SUn","w":830,"v":0.005},{"s":"0.5 SUn","w":840,"v":0.005},{"s":"0.5 SUn","w":850,"v":0.005},
{"s":"0.7 Sun","w":350,"v":0.114},{"s":"0.7 Sun","w":360,"v":0.134},{"s":"0.7 Sun","w":370,"v":0.148},{"s":"0.7 Sun","w":380,"v":0.159},{"s":"0.7 Sun","w":390,"v":0.169},{"s":"0.7 Sun","w":400,"v":0.177},{"s":"0.7 Sun","w":410,"v":0.187},{"s":"0.7 Sun","w":420,"v":0.196},{"s":"0.7 Sun","w":430,"v":0.205},{"s":"0.7 Sun","w":440,"v":0.214},{"s":"0.7 Sun","w":450,"v":0.222},{"s":"0.7 Sun","w":460,"v":0.230},{"s":"0.7 Sun","w":470,"v":0.237},{"s":"0.7 Sun","w":480,"v":0.244},{"s":"0.7 Sun","w":490,"v":0.250},{"s":"0.7 Sun","w":500,"v":0.255},{"s":"0.7 Sun","w":510,"v":0.259},{"s":"0.7 Sun","w":520,"v":0.264},{"s":"0.7 Sun","w":530,"v":0.269},{"s":"0.7 Sun","w":540,"v":0.274},{"s":"0.7 Sun","w":550,"v":0.279},{"s":"0.7 Sun","w":560,"v":0.285},{"s":"0.7 Sun","w":570,"v":0.291},{"s":"0.7 Sun","w":580,"v":0.297},{"s":"0.7 Sun","w":590,"v":0.304},{"s":"0.7 Sun","w":600,"v":0.311},{"s":"0.7 Sun","w":610,"v":0.313},{"s":"0.7 Sun","w":620,"v":0.306},{"s":"0.7 Sun","w":630,"v":0.268},{"s":"0.7 Sun","w":640,"v":0.184},{"s":"0.7 Sun","w":650,"v":0.102},{"s":"0.7 Sun","w":660,"v":0.057},{"s":"0.7 Sun","w":670,"v":0.037},{"s":"0.7 Sun","w":680,"v":0.029},{"s":"0.7 Sun","w":690,"v":0.026},{"s":"0.7 Sun","w":700,"v":0.024},{"s":"0.7 Sun","w":710,"v":0.022},{"s":"0.7 Sun","w":720,"v":0.018},{"s":"0.7 Sun","w":730,"v":0.014},{"s":"0.7 Sun","w":740,"v":0.011},{"s":"0.7 Sun","w":750,"v":0.010},{"s":"0.7 Sun","w":760,"v":0.009},{"s":"0.7 Sun","w":770,"v":0.008},{"s":"0.7 Sun","w":780,"v":0.007},{"s":"0.7 Sun","w":790,"v":0.007},{"s":"0.7 Sun","w":800,"v":0.006},{"s":"0.7 Sun","w":810,"v":0.006},{"s":"0.7 Sun","w":820,"v":0.006},{"s":"0.7 Sun","w":830,"v":0.005},{"s":"0.7 Sun","w":840,"v":0.005},{"s":"0.7 Sun","w":850,"v":0.005},
{"s":"1.0 Sun","w":350,"v":0.114},{"s":"1.0 Sun","w":360,"v":0.133},{"s":"1.0 Sun","w":370,"v":0.147},{"s":"1.0 Sun","w":380,"v":0.158},{"s":"1.0 Sun","w":390,"v":0.168},{"s":"1.0 Sun","w":400,"v":0.176},{"s":"1.0 Sun","w":410,"v":0.186},{"s":"1.0 Sun","w":420,"v":0.195},{"s":"1.0 Sun","w":430,"v":0.204},{"s":"1.0 Sun","w":440,"v":0.213},{"s":"1.0 Sun","w":450,"v":0.221},{"s":"1.0 Sun","w":460,"v":0.229},{"s":"1.0 Sun","w":470,"v":0.236},{"s":"1.0 Sun","w":480,"v":0.243},{"s":"1.0 Sun","w":490,"v":0.249},{"s":"1.0 Sun","w":500,"v":0.254},{"s":"1.0 Sun","w":510,"v":0.258},{"s":"1.0 Sun","w":520,"v":0.263},{"s":"1.0 Sun","w":530,"v":0.268},{"s":"1.0 Sun","w":540,"v":0.273},{"s":"1.0 Sun","w":550,"v":0.278},{"s":"1.0 Sun","w":560,"v":0.284},{"s":"1.0 Sun","w":570,"v":0.290},{"s":"1.0 Sun","w":580,"v":0.296},{"s":"1.0 Sun","w":590,"v":0.303},{"s":"1.0 Sun","w":600,"v":0.310},{"s":"1.0 Sun","w":610,"v":0.312},{"s":"1.0 Sun","w":620,"v":0.305},{"s":"1.0 Sun","w":630,"v":0.268},{"s":"1.0 Sun","w":640,"v":0.184},{"s":"1.0 Sun","w":650,"v":0.102},{"s":"1.0 Sun","w":660,"v":0.057},{"s":"1.0 Sun","w":670,"v":0.037},{"s":"1.0 Sun","w":680,"v":0.029},{"s":"1.0 Sun","w":690,"v":0.026},{"s":"1.0 Sun","w":700,"v":0.024},{"s":"1.0 Sun","w":710,"v":0.022},{"s":"1.0 Sun","w":720,"v":0.018},{"s":"1.0 Sun","w":730,"v":0.014},{"s":"1.0 Sun","w":740,"v":0.011},{"s":"1.0 Sun","w":750,"v":0.010},{"s":"1.0 Sun","w":760,"v":0.009},{"s":"1.0 Sun","w":770,"v":0.008},{"s":"1.0 Sun","w":780,"v":0.007},{"s":"1.0 Sun","w":790,"v":0.007},{"s":"1.0 Sun","w":800,"v":0.006},{"s":"1.0 Sun","w":810,"v":0.006},{"s":"1.0 Sun","w":820,"v":0.006},{"s":"1.0 Sun","w":830,"v":0.005},{"s":"1.0 Sun","w":840,"v":0.005},{"s":"1.0 Sun","w":850,"v":0.005}
]
},
"vconcat": [
{
 "width": 476, "height": 227,
 "data": {"name": "a"},
 "title": {"text": "(a) CuPc/C₆₀Bi-Layer", "anchor": "start", "frame": "group", "offset": -42, "baseline": "alphabetic", "dx": 6, "fontSize": 18, "fontWeight": "bold", "font": "Liberation Sans", "color": "black"},
 "resolve": {"scale": {"shape": "independent"}, "axis": {"x": "independent", "y": "independent"}},
 "layer": [
  {"mark": {"type": "line", "color": "black", "strokeWidth": 1.5, "clip": true},
   "encoding": {
    "x": {"field": "w", "type": "quantitative", "scale": {"domain": [350, 850], "nice": false},
      "axis": {"orient": "bottom", "values": [350,400,450,500,550,600,650,700,750,800,850], "labels": false, "title": null, "tickSize": {"condition": {"test": "datum.value % 100 === 0", "value": -5}, "value": -3}}},
    "y": {"field": "v", "type": "quantitative", "scale": {"domain": [-0.01, 0.11], "nice": false, "zero": false},
      "axis": {"orient": "left", "values": [0,0.01,0.02,0.03,0.04,0.05,0.06,0.07,0.08,0.09,0.1], "labelExpr": "round(datum.value*100) % 2 === 0 ? format(datum.value, '.2f') : ''", "tickSize": {"condition": {"test": "round(datum.value*100) % 2 === 0", "value": 6}, "value": 3}, "labelFontSize": 17, "labelPadding": 3, "title": "Sₜ [A/W]", "titleFontSize": 19, "titlePadding": 22}},
    "detail": {"field": "s"}
   }},
  {"mark": {"type": "point", "filled": true, "opacity": 1, "size": 60, "stroke": "black", "strokeWidth": 1, "clip": true},
   "encoding": {
    "x": {"field": "w", "type": "quantitative", "scale": {"domain": [350, 850], "nice": false},
      "axis": {"orient": "top", "values": [350,400,450,500,550,600,650,700,750,800,850], "labels": false, "title": null, "tickSize": {"condition": {"test": "datum.value % 100 === 0", "value": -5}, "value": -3}}},
    "y": {"field": "v", "type": "quantitative", "scale": {"domain": [-0.01, 0.11], "nice": false, "zero": false},
      "axis": {"orient": "right", "values": [0,0.01,0.02,0.03,0.04,0.05,0.06,0.07,0.08,0.09,0.1], "labels": false, "title": null, "tickSize": {"condition": {"test": "round(datum.value*100) % 2 === 0", "value": -6}, "value": -3}}},
    "shape": {"field": "s", "type": "nominal", "scale": {"domain": ["Dark", "0.2 Sun", "0.6 Sun", "1.0 Sun"], "range": ["square", "circle", "triangle-up", "triangle-down"]}, "legend": null},
    "fill": {"field": "s", "type": "nominal", "scale": {"domain": ["Dark", "0.2 Sun", "0.6 Sun", "1.0 Sun"], "range": ["black", "white", "white", "white"]}, "legend": null}
   }},
  {"mark": {"type": "point", "filled": true, "opacity": 0, "size": 49, "fill": "white", "stroke": "black"},
   "encoding": {
    "x": {"field": "w", "type": "quantitative", "scale": {"domain": [350, 850], "nice": false}, "axis": null},
    "y": {"field": "v", "type": "quantitative", "scale": {"domain": [-0.01, 0.11], "nice": false, "zero": false}, "axis": null},
    "shape": {"field": "s", "type": "nominal", "scale": {"domain": ["Dark", "0.2 Sun", "0.6 Sun", "1.0 Sun"], "range": ["M-6.7,0H6.7M-1,-1H1V1H-1ZM-1,-0.67H1M-1,-0.33H1M-1,0.33H1M-1,0.67H1", "M-6.7,0H-1M1,0H6.7M-1,0A1,1,0,1,1,1,0A1,1,0,1,1,-1,0Z", "M-6.7,0H-0.64M0.64,0H6.7M0,-1.1L1.05,0.7H-1.05Z", "M-6.7,0H-0.64M0.64,0H6.7M0,1.1L1.05,-0.7H-1.05Z"]}, "legend": {"offset": 6}}
   }}
 ]
},
{
 "width": 476, "height": 227,
 "data": {"name": "b"},
 "title": {"text": "(b) MEH-PPV:PCBM (1:4) in DCB", "anchor": "start", "frame": "group", "offset": -46, "baseline": "alphabetic", "dx": 9, "fontSize": 18, "fontWeight": "bold", "font": "Liberation Sans", "color": "black"},
 "resolve": {"scale": {"shape": "independent"}, "axis": {"x": "independent", "y": "independent"}},
 "layer": [
  {"mark": {"type": "line", "color": "black", "strokeWidth": 1.5, "clip": true},
   "encoding": {
    "x": {"field": "w", "type": "quantitative", "scale": {"domain": [350, 850], "nice": false},
      "axis": {"orient": "bottom", "values": [350,400,450,500,550,600,650,700,750,800,850], "labels": false, "title": null, "tickSize": {"condition": {"test": "datum.value % 100 === 0", "value": -5}, "value": -3}}},
    "y": {"field": "v", "type": "quantitative", "scale": {"domain": [-0.02, 0.22], "nice": false, "zero": false},
      "axis": {"orient": "left", "values": [0,0.02,0.04,0.06,0.08,0.1,0.12,0.14,0.16,0.18,0.2], "labelExpr": "round(datum.value*100) % 4 === 0 ? format(datum.value, '.2f') : ''", "tickSize": {"condition": {"test": "round(datum.value*100) % 4 === 0", "value": 6}, "value": 3}, "labelFontSize": 17, "labelPadding": 3, "title": "Sₜ [A/W]", "titleFontSize": 19, "titlePadding": 22}},
    "detail": {"field": "s"}
   }},
  {"mark": {"type": "point", "filled": true, "opacity": 1, "size": 60, "stroke": "black", "strokeWidth": 1, "clip": true},
   "encoding": {
    "x": {"field": "w", "type": "quantitative", "scale": {"domain": [350, 850], "nice": false},
      "axis": {"orient": "top", "values": [350,400,450,500,550,600,650,700,750,800,850], "labels": false, "title": null, "tickSize": {"condition": {"test": "datum.value % 100 === 0", "value": -5}, "value": -3}}},
    "y": {"field": "v", "type": "quantitative", "scale": {"domain": [-0.02, 0.22], "nice": false, "zero": false},
      "axis": {"orient": "right", "values": [0,0.02,0.04,0.06,0.08,0.1,0.12,0.14,0.16,0.18,0.2], "labels": false, "title": null, "tickSize": {"condition": {"test": "round(datum.value*100) % 4 === 0", "value": -6}, "value": -3}}},
    "shape": {"field": "s", "type": "nominal", "scale": {"domain": ["Dark", "0.5 Sun", "1.0 Sun", "2.0 Sun"], "range": ["square", "circle", "triangle-up", "triangle-down"]}, "legend": null},
    "fill": {"field": "s", "type": "nominal", "scale": {"domain": ["Dark", "0.5 Sun", "1.0 Sun", "2.0 Sun"], "range": ["black", "white", "white", "white"]}, "legend": null}
   }},
  {"mark": {"type": "point", "filled": true, "opacity": 0, "size": 49, "fill": "white", "stroke": "black"},
   "encoding": {
    "x": {"field": "w", "type": "quantitative", "scale": {"domain": [350, 850], "nice": false}, "axis": null},
    "y": {"field": "v", "type": "quantitative", "scale": {"domain": [-0.02, 0.22], "nice": false, "zero": false}, "axis": null},
    "shape": {"field": "s", "type": "nominal", "scale": {"domain": ["Dark", "0.5 Sun", "1.0 Sun", "2.0 Sun"], "range": ["M-6.7,0H6.7M-1,-1H1V1H-1ZM-1,-0.67H1M-1,-0.33H1M-1,0.33H1M-1,0.67H1", "M-6.7,0H-1M1,0H6.7M-1,0A1,1,0,1,1,1,0A1,1,0,1,1,-1,0Z", "M-6.7,0H-0.64M0.64,0H6.7M0,-1.1L1.05,0.7H-1.05Z", "M-6.7,0H-0.64M0.64,0H6.7M0,1.1L1.05,-0.7H-1.05Z"]}, "legend": {"offset": 12}}
   }}
 ]
},
{
 "width": 476, "height": 227,
 "data": {"name": "c"},
 "title": {"text": "(c) P3HT:PCBM (1:0.8) in CB", "anchor": "start", "frame": "group", "offset": -46, "baseline": "alphabetic", "dx": 9, "fontSize": 18, "fontWeight": "bold", "font": "Liberation Sans", "color": "black"},
 "resolve": {"scale": {"shape": "independent"}, "axis": {"x": "independent", "y": "independent"}},
 "layer": [
  {"mark": {"type": "line", "color": "black", "strokeWidth": 1.5, "clip": true},
   "encoding": {
    "x": {"field": "w", "type": "quantitative", "scale": {"domain": [350, 850], "nice": false},
      "axis": {"orient": "bottom", "values": [350,400,450,500,550,600,650,700,750,800,850], "labels": false, "title": null, "tickSize": {"condition": {"test": "datum.value % 100 === 0", "value": -5}, "value": -3}}},
    "y": {"field": "v", "type": "quantitative", "scale": {"domain": [-0.05, 0.45], "nice": false, "zero": false},
      "axis": {"orient": "left", "values": [0,0.05,0.1,0.15,0.2,0.25,0.3,0.35,0.4], "labelExpr": "round(datum.value*100) % 10 === 0 ? format(datum.value, '.1f') : ''", "tickSize": {"condition": {"test": "round(datum.value*100) % 10 === 0", "value": 6}, "value": 3}, "labelFontSize": 17, "labelPadding": 3, "title": "Sₜ [A/W]", "titleFontSize": 19, "titlePadding": 22}},
    "detail": {"field": "s"}
   }},
  {"mark": {"type": "point", "filled": true, "opacity": 1, "size": 60, "stroke": "black", "strokeWidth": 1, "clip": true},
   "encoding": {
    "x": {"field": "w", "type": "quantitative", "scale": {"domain": [350, 850], "nice": false},
      "axis": {"orient": "top", "values": [350,400,450,500,550,600,650,700,750,800,850], "labels": false, "title": null, "tickSize": {"condition": {"test": "datum.value % 100 === 0", "value": -5}, "value": -3}}},
    "y": {"field": "v", "type": "quantitative", "scale": {"domain": [-0.05, 0.45], "nice": false, "zero": false},
      "axis": {"orient": "right", "values": [0,0.05,0.1,0.15,0.2,0.25,0.3,0.35,0.4], "labels": false, "title": null, "tickSize": {"condition": {"test": "round(datum.value*100) % 10 === 0", "value": -6}, "value": -3}}},
    "shape": {"field": "s", "type": "nominal", "scale": {"domain": ["Dark", "0.1 Sun", "0.4 Sun", "0.7 Sun", "1.0 Sun", "1.2 Sun"], "range": ["square", "circle", "triangle-up", "triangle-down", "diamond", "M0,-1.1V1.1M-0.95,-0.55L0.95,0.55M-0.95,0.55L0.95,-0.55"]}, "legend": null},
    "fill": {"field": "s", "type": "nominal", "scale": {"domain": ["Dark", "0.1 Sun", "0.4 Sun", "0.7 Sun", "1.0 Sun", "1.2 Sun"], "range": ["black", "white", "white", "white", "white", "white"]}, "legend": null}
   }},
  {"mark": {"type": "point", "filled": true, "opacity": 0, "size": 49, "fill": "white", "stroke": "black"},
   "encoding": {
    "x": {"field": "w", "type": "quantitative", "scale": {"domain": [350, 850], "nice": false}, "axis": null},
    "y": {"field": "v", "type": "quantitative", "scale": {"domain": [-0.05, 0.45], "nice": false, "zero": false}, "axis": null},
    "shape": {"field": "s", "type": "nominal", "scale": {"domain": ["Dark", "0.1 Sun", "0.4 Sun", "0.7 Sun", "1.0 Sun", "1.2 Sun"], "range": ["M-6.7,0H6.7M-1,-1H1V1H-1ZM-1,-0.67H1M-1,-0.33H1M-1,0.33H1M-1,0.67H1", "M-6.7,0H-1M1,0H6.7M-1,0A1,1,0,1,1,1,0A1,1,0,1,1,-1,0Z", "M-6.7,0H-0.64M0.64,0H6.7M0,-1.1L1.05,0.7H-1.05Z", "M-6.7,0H-0.64M0.64,0H6.7M0,1.1L1.05,-0.7H-1.05Z", "M-6.7,0H-1M1,0H6.7M0,-1.2L1,0L0,1.2L-1,0Z", "M-6.7,0H6.7M0,-1.1V1.1M-0.95,-0.55L0.95,0.55M-0.95,0.55L0.95,-0.55"]}, "legend": {"offset": 13}}
   }}
 ]
},
{
 "width": 476, "height": 227,
 "data": {"name": "d"},
 "title": {"text": "(d) P3HT:PCBM (1:1) in DCB", "anchor": "start", "frame": "group", "offset": -46, "baseline": "alphabetic", "dx": 11, "fontSize": 18, "fontWeight": "bold", "font": "Liberation Sans", "color": "black"},
 "resolve": {"scale": {"shape": "independent"}, "axis": {"x": "independent", "y": "independent"}},
 "layer": [
  {"mark": {"type": "line", "color": "black", "strokeWidth": 1.5, "clip": true},
   "encoding": {
    "x": {"field": "w", "type": "quantitative", "scale": {"domain": [350, 850], "nice": false},
      "axis": {"orient": "bottom", "values": [350,400,450,500,550,600,650,700,750,800,850], "labelExpr": "datum.value % 100 === 0 ? datum.label : ''", "labelFontSize": 18, "labelPadding": 3, "title": "Wavelength [nm]", "titleFontSize": 19, "titlePadding": 12, "tickSize": {"condition": {"test": "datum.value % 100 === 0", "value": 5}, "value": 3}}},
    "y": {"field": "v", "type": "quantitative", "scale": {"domain": [-0.05, 0.45], "nice": false, "zero": false},
      "axis": {"orient": "left", "values": [0,0.05,0.1,0.15,0.2,0.25,0.3,0.35,0.4], "labelExpr": "round(datum.value*100) % 10 === 0 ? format(datum.value, '.1f') : ''", "tickSize": {"condition": {"test": "round(datum.value*100) % 10 === 0", "value": 6}, "value": 3}, "labelFontSize": 17, "labelPadding": 3, "title": "Sₜ [A/W]", "titleFontSize": 19, "titlePadding": 22}},
    "detail": {"field": "s"}
   }},
  {"mark": {"type": "point", "filled": true, "opacity": 1, "size": 60, "stroke": "black", "strokeWidth": 1, "clip": true},
   "encoding": {
    "x": {"field": "w", "type": "quantitative", "scale": {"domain": [350, 850], "nice": false},
      "axis": {"orient": "top", "values": [350,400,450,500,550,600,650,700,750,800,850], "labels": false, "title": null, "tickSize": {"condition": {"test": "datum.value % 100 === 0", "value": -5}, "value": -3}}},
    "y": {"field": "v", "type": "quantitative", "scale": {"domain": [-0.05, 0.45], "nice": false, "zero": false},
      "axis": {"orient": "right", "values": [0,0.05,0.1,0.15,0.2,0.25,0.3,0.35,0.4], "labels": false, "title": null, "tickSize": {"condition": {"test": "round(datum.value*100) % 10 === 0", "value": -6}, "value": -3}}},
    "shape": {"field": "s", "type": "nominal", "scale": {"domain": ["Dark", "0.1 Sun", "0.3 Sun", "0.5 SUn", "0.7 Sun", "1.0 Sun"], "range": ["square", "circle", "triangle-up", "triangle-down", "diamond", "M0,-1.1V1.1M-0.95,-0.55L0.95,0.55M-0.95,0.55L0.95,-0.55"]}, "legend": null},
    "fill": {"field": "s", "type": "nominal", "scale": {"domain": ["Dark", "0.1 Sun", "0.3 Sun", "0.5 SUn", "0.7 Sun", "1.0 Sun"], "range": ["black", "white", "white", "white", "white", "white"]}, "legend": null}
   }},
  {"mark": {"type": "point", "filled": true, "opacity": 0, "size": 49, "fill": "white", "stroke": "black"},
   "encoding": {
    "x": {"field": "w", "type": "quantitative", "scale": {"domain": [350, 850], "nice": false}, "axis": null},
    "y": {"field": "v", "type": "quantitative", "scale": {"domain": [-0.05, 0.45], "nice": false, "zero": false}, "axis": null},
    "shape": {"field": "s", "type": "nominal", "scale": {"domain": ["Dark", "0.1 Sun", "0.3 Sun", "0.5 SUn", "0.7 Sun", "1.0 Sun"], "range": ["M-6.7,0H6.7M-1,-1H1V1H-1ZM-1,-0.67H1M-1,-0.33H1M-1,0.33H1M-1,0.67H1", "M-6.7,0H-1M1,0H6.7M-1,0A1,1,0,1,1,1,0A1,1,0,1,1,-1,0Z", "M-6.7,0H-0.64M0.64,0H6.7M0,-1.1L1.05,0.7H-1.05Z", "M-6.7,0H-0.64M0.64,0H6.7M0,1.1L1.05,-0.7H-1.05Z", "M-6.7,0H-1M1,0H6.7M0,-1.2L1,0L0,1.2L-1,0Z", "M-6.7,0H6.7M0,-1.1V1.1M-0.95,-0.55L0.95,0.55M-0.95,0.55L0.95,-0.55"]}, "legend": {"offset": 13}}
   }}
 ]
}
]
}
